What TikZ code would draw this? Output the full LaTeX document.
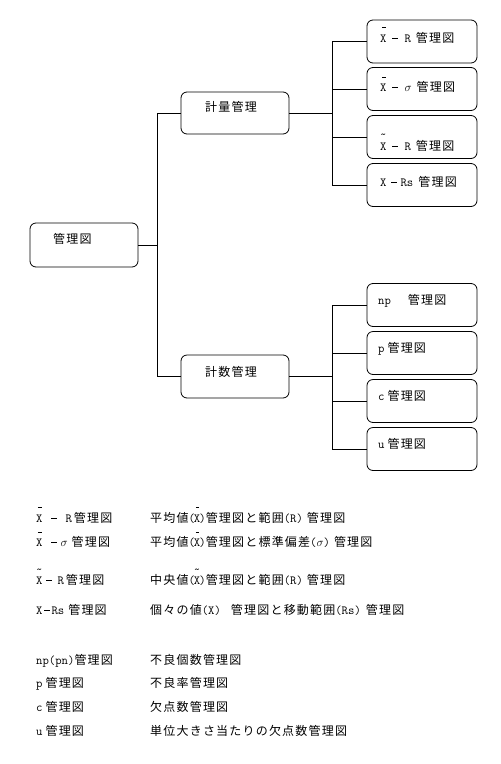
\documentclass[tikz,border=0pt]{standalone}
\usepackage{fontspec}
\setmainfont{Noto Sans CJK JP}[LetterSpace=10]
\newcommand\ltx[1]{{\ttfamily\fontsize{12.4}{14}\selectfont #1}}
\newcommand\mn{\hspace{0.5pt}\rule[3.4pt]{6pt}{0.7pt}\hspace{0.5pt}}
\newcommand\xbar{\ltx{\rlap{\raisebox{14pt}{\hspace{1.8pt}\rule{3.6pt}{0.8pt}}}X}}
\newcommand\xtil[1]{\ltx{\rlap{\raisebox{#1}{\hspace{0pt}\textasciitilde}}X}}
\begin{document}
\begin{tikzpicture}[x=1pt,y=-1pt,
  box/.style={draw, rounded corners=6pt, line width=0.8pt, inner sep=0pt},
  txt/.style={anchor=base west, inner sep=0pt, font=\fontsize{12}{14}\selectfont},
  wire/.style={line width=0.8pt}]
\useasboundingbox (0,0) rectangle (501,764);
% boxes
\node[box, minimum width=108pt, minimum height=44pt] (root) at (84,245) {};
\node[box, minimum width=108pt, minimum height=42pt] (g1) at (235,113) {};
\node[box, minimum width=108pt, minimum height=43pt] (g2) at (235,376.5) {};
\foreach \n/\y in {a1/41.5,a2/89,a3/137,a4/185,b1/305,b2/353,b3/401,b4/449}{
  \node[box, minimum width=110pt, minimum height=43pt] (\n) at (422,\y) {};
}
% connectors
\coordinate (j1) at (157,0);
\coordinate (j2) at (332,0);
\draw[wire] (root.east) -- (root.east -| j1);
\draw[wire] (g1.west) -| (j1 |- g2.west) -- (g2.west);
\draw[wire] (g1.east) -- (g1.east -| j2);
\draw[wire] (a1.west) -| (j2 |- a4.west) -- (a4.west);
\draw[wire] (a2.west) -- (a2.west -| j2);
\draw[wire] (a3.west) -- (a3.west -| j2);
\draw[wire] (g2.east) -- (g2.east -| j2);
\draw[wire] (b1.west) -| (j2 |- b4.west) -- (b4.west);
\draw[wire] (b2.west) -- (b2.west -| j2);
\draw[wire] (b3.west) -- (b3.west -| j2);
% box texts
\node[txt] (troot) at (53,243.5) {管理図};
\node[txt] (tg1) at (205,111.5) {計量管理};
\node[txt] (tg2) at (205,376) {計数管理};
\node[txt] (ta1) at (380,42) {\xbar\hspace{5pt}\mn\hspace{6pt}\ltx{R}\hspace{5pt}管理図};
\node[txt] (ta2) at (380,91.5) {\xbar\hspace{5pt}\mn\hspace{6pt}$\sigma$\hspace{5pt}管理図};
\node[txt] (ta3) at (380,150.5) {\xtil{12pt}\hspace{5pt}\mn\hspace{6pt}\ltx{R}\hspace{5pt}管理図};
\node[txt] (ta4) at (380,186.5) {\ltx{X}\hspace{4pt}\mn\hspace{3pt}\ltx{Rs}\hspace{5pt}管理図};
\node[txt] (tb1) at (378,304.5) {\ltx{np}\hspace{17pt}管理図};
\node[txt] (tb2) at (378,352.5) {\ltx{p}\hspace{3pt}管理図};
\node[txt] (tb3) at (378,400.5) {\ltx{c}\hspace{3pt}管理図};
\node[txt] (tb4) at (378,448.5) {\ltx{u}\hspace{3pt}管理図};
% legend left
\node[txt] (l1) at (36,522) {\xbar\hspace{8pt}\mn\hspace{8pt}\ltx{R}\hspace{2pt}管理図};
\node[txt] (l2) at (36,546.5) {\xbar\hspace{8pt}\mn\hspace{3pt}$\sigma$\hspace{4pt}管理図};
\node[txt] (l3) at (36,584.5) {\xtil{11pt}\hspace{3pt}\mn\hspace{5pt}\ltx{R}\hspace{2pt}管理図};
\node[txt] (l4) at (36,614.5) {\ltx{X}\hspace{1pt}\mn\hspace{1pt}\ltx{Rs}\hspace{4pt}管理図};
\node[txt] (l5) at (36,664.5) {\ltx{np(pn)}管理図};
\node[txt] (l6) at (36,687.5) {\ltx{p}\hspace{3pt}管理図};
\node[txt] (l7) at (36,711.5) {\ltx{c}\hspace{3pt}管理図};
\node[txt] (l8) at (36,735) {\ltx{u}\hspace{3pt}管理図};
% legend right
\node[txt] (r1) at (150,522) {平均値\ltx{(}\kern-1pt\xbar\kern-1pt\ltx{)}管理図と範囲\ltx{(R)}\hspace{4pt}管理図};
\node[txt] (r2) at (150,546.5) {平均値\ltx{(}\kern-1pt\xbar\kern-1pt\ltx{)}管理図と標準偏差\ltx{(}$\sigma$\ltx{)}\hspace{4pt}管理図};
\node[txt] (r3) at (150,584.5) {中央値\ltx{(}\kern-1pt\xtil{11pt}\kern-1pt\ltx{)}管理図と範囲\ltx{(R)}\hspace{4pt}管理図};
\node[txt] (r4) at (150,614.5) {個々の値\ltx{(X)}\hspace{10pt}管理図と移動範囲\ltx{(Rs)}\hspace{5pt}管理図};
\node[txt] (r5) at (150,664.5) {不良個数管理図};
\node[txt] (r6) at (150,687.5) {不良率管理図};
\node[txt] (r7) at (150,711.5) {欠点数管理図};
\node[txt] (r8) at (150,735) {単位大きさ当たりの欠点数管理図};
\end{tikzpicture}
\end{document}
